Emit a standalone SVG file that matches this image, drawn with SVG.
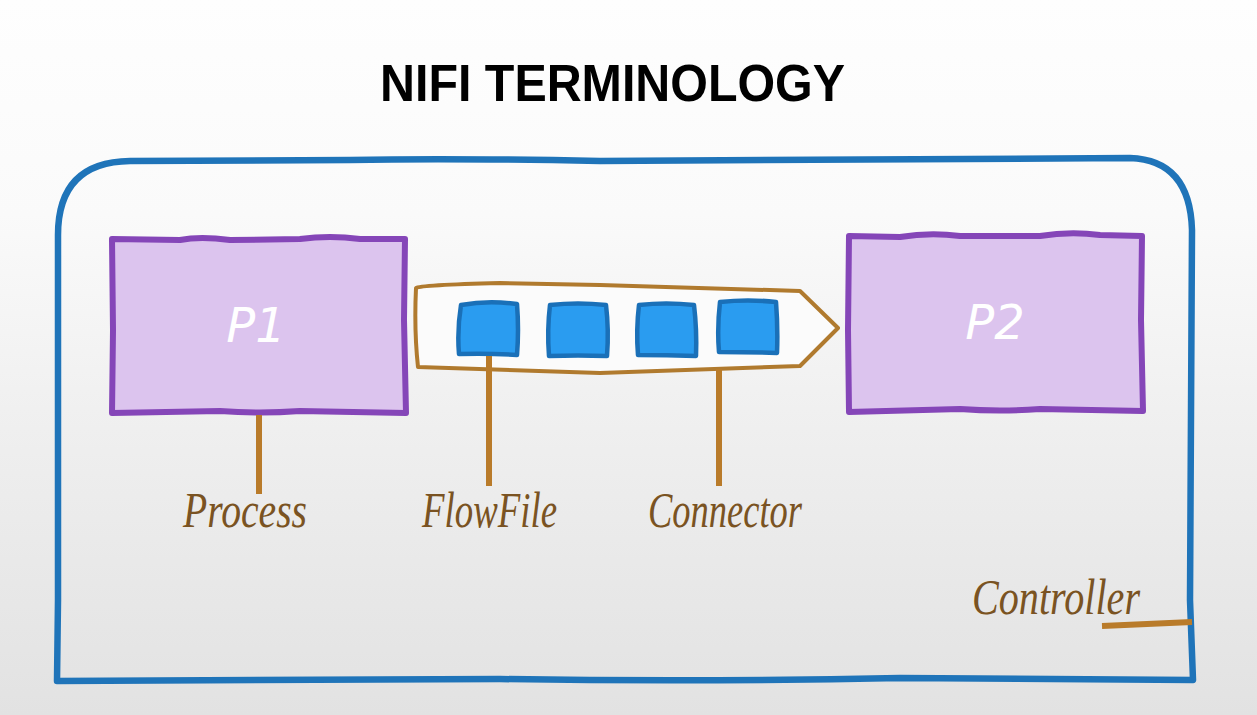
<svg xmlns="http://www.w3.org/2000/svg" width="1257" height="715" viewBox="0 0 1257 715">
<defs>
<linearGradient id="bg" x1="0" y1="0" x2="0" y2="1">
<stop offset="0" stop-color="#fefefe"/>
<stop offset="0.3" stop-color="#fafafa"/>
<stop offset="0.6" stop-color="#efefef"/>
<stop offset="1" stop-color="#e2e2e2"/>
</linearGradient>
<style>
.proc{fill:#dcc4ee;stroke:#8546b8;stroke-width:6;stroke-linejoin:round}
.ff{fill:#2a9cf0;stroke:#1a70b8;stroke-width:4.5;stroke-linejoin:round}
.lead{stroke:#b97b2a;stroke-width:6;fill:none}
.hand{font-family:"Liberation Serif",serif;font-style:italic;fill:#7a5322;font-size:50px;lengthAdjust:spacingAndGlyphs}
.pl{font-family:"DejaVu Sans",sans-serif;font-style:italic;fill:#ffffff;font-size:48px;text-anchor:middle;font-weight:200}
</style>
</defs>
<rect x="0" y="0" width="1257" height="715" fill="url(#bg)"/>
<text x="380" y="101" font-family="Liberation Sans, sans-serif" font-weight="bold" font-size="52" textLength="465" lengthAdjust="spacingAndGlyphs" fill="#000">NIFI TERMINOLOGY</text>
<g id="controller">
<path d="M58,235 Q58,162 130,161 L350,160 Q450,158 600,161 L1130,158 Q1190,160 1192,230 L1190,600 L1193,680 L900,678 Q700,682 500,679 L57,681 L58,600 Z" fill="none" stroke="#1f74b9" stroke-width="6.5" stroke-linejoin="round"/>
<text class="hand" x="972" y="614" textLength="168" lengthAdjust="spacingAndGlyphs">Controller</text>
</g>
<g id="p1">
<path class="proc" d="M112,239 L180,240 Q200,236 230,240 L300,239 Q330,235 360,239 L405,239 L404,320 L406,413 L300,411 Q260,414 220,411 L112,413 L113,330 Z"/>
<text class="pl" x="256" y="342">P1</text>
</g>
<g id="p2">
<path class="proc" d="M849,236 L900,237 Q930,232 960,236 L1040,236 Q1070,231 1100,235 L1142,236 L1141,320 L1143,411 L1040,409 Q1000,412 960,409 L849,412 L848,330 Z"/>
<text class="pl" x="995" y="339">P2</text>
</g>
<g id="connector">
<path d="M416,288 Q420,285 500,283 L600,285 L800,291 L838,328 L800,366 L600,373 Q500,370 418,367 Q414,330 416,288 Z" fill="#fbfbfb" stroke="#b07a2e" stroke-width="4" stroke-linejoin="round"/>
<text class="hand" x="648" y="527" textLength="154" lengthAdjust="spacingAndGlyphs">Connector</text>
</g>
<g id="flowfiles">
<path class="ff" d="M461,305 Q488,300 517,304 Q519,330 517,355 Q488,353 459,354 Q457,330 461,305 Z"/>
<path class="ff" d="M550,305 Q578,302 606,305 Q609,330 607,356 Q578,355 549,356 Q547,330 550,305 Z"/>
<path class="ff" d="M639,305 Q666,302 694,305 Q697,330 696,356 Q667,355 638,355 Q636,330 639,305 Z"/>
<path class="ff" d="M720,302 Q748,299 776,302 Q778,328 777,353 Q748,352 719,352 Q717,328 720,302 Z"/>
<text class="hand" x="422" y="527" textLength="135" lengthAdjust="spacingAndGlyphs">FlowFile</text>
</g>
<g id="connectors">
<line class="lead" x1="259" y1="415" x2="259" y2="494"/>
<line class="lead" x1="489" y1="356" x2="489" y2="486"/>
<line class="lead" x1="719" y1="369" x2="719" y2="486"/>
<line class="lead" x1="1102" y1="626" x2="1192" y2="622"/>
</g>
<g id="process-label">
<text class="hand" x="183" y="527" textLength="124" lengthAdjust="spacingAndGlyphs">Process</text>
</g>
</svg>
